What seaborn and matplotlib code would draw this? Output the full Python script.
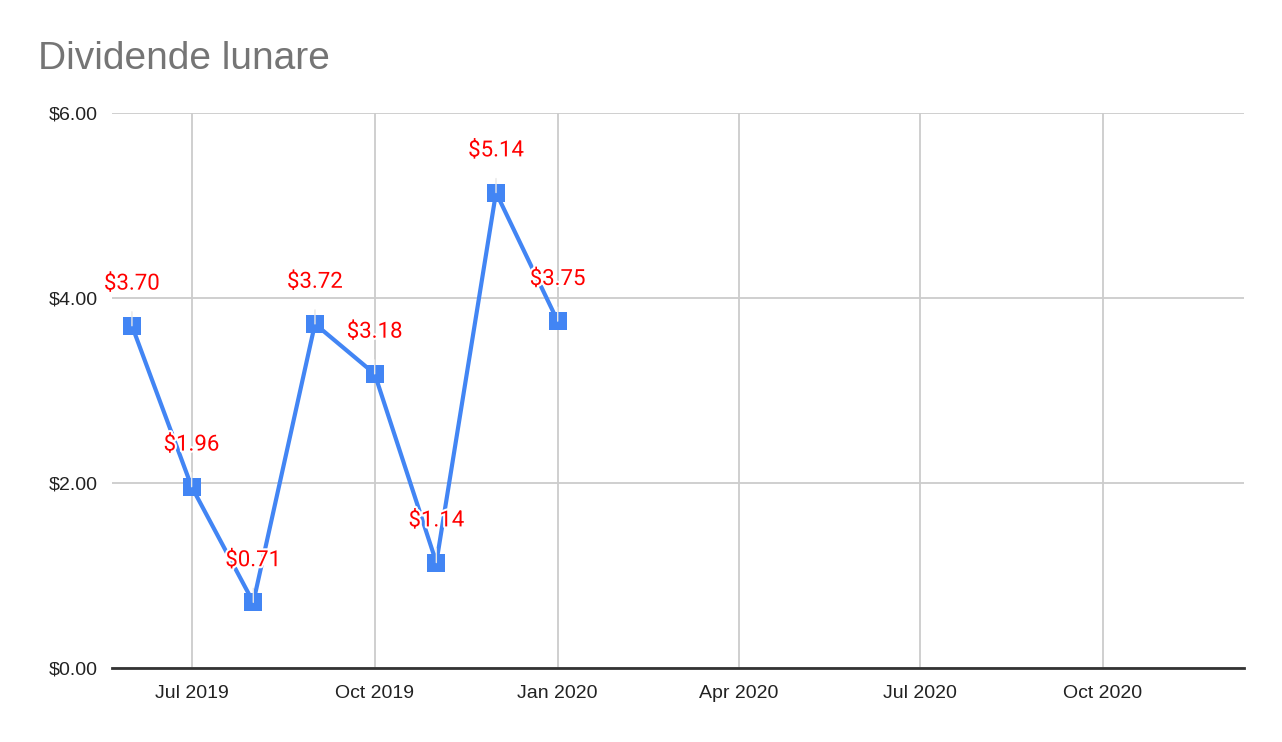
import matplotlib
matplotlib.use("Agg")
import matplotlib.pyplot as plt
import matplotlib.dates as mdates
import matplotlib.patheffects as pe
from matplotlib.ticker import FuncFormatter
import seaborn as sns
import pandas as pd

# Données
months = ["2019-06-01", "2019-07-01", "2019-08-01", "2019-09-01",
          "2019-10-01", "2019-11-01", "2019-12-01", "2020-01-01"]
dividends = [3.70, 1.96, 0.71, 3.72, 3.18, 1.14, 5.14, 3.75]
y_ticks = [0, 2, 4, 6]

df = pd.DataFrame({"Luna": pd.to_datetime(months), "Dividend": dividends})

sns.set_style("white")
plt.rcParams["font.family"] = ["Liberation Sans", "DejaVu Sans"]

fig = plt.figure(figsize=(12.82, 7.42), dpi=100)
ax = fig.add_axes([0.0874, 0.0997, 0.8830, 0.7480])

sns.lineplot(data=df, x="Luna", y="Dividend", ax=ax, color="#4285F4",
             linewidth=3, marker="s", markersize=13, markeredgewidth=0,
             zorder=3)

# Etiquettes de valeurs
for _, row in df.iterrows():
    ax.annotate(f"${row['Dividend']:.2f}", (row["Luna"], row["Dividend"]),
                xytext=(0, 30), textcoords="offset points",
                ha="center", va="center", color="red", fontsize=16,
                family=["Roboto", "DejaVu Sans"], zorder=4,
                path_effects=[pe.withStroke(linewidth=3, foreground="white")],
                arrowprops=dict(arrowstyle="-", color="#e6e6e6", lw=1,
                                shrinkA=10, shrinkB=0))

ax.set_xlim(pd.Timestamp("2019-05-22"), pd.Timestamp("2020-12-11"))
ax.set_ylim(0, 6)
ax.set_yticks(y_ticks)
ax.yaxis.set_major_formatter(FuncFormatter(lambda v, p: f"${v:.2f}"))
ax.xaxis.set_major_locator(mdates.MonthLocator(bymonth=[1, 4, 7, 10]))
ax.xaxis.set_major_formatter(mdates.DateFormatter("%b %Y"))

ax.grid(True, color="#cccccc", linewidth=1.3)
ax.set_axisbelow(True)
for s in ["top", "right", "left"]:
    ax.spines[s].set_visible(False)
ax.spines["bottom"].set_color("#333333")
ax.spines["bottom"].set_linewidth(2)
ax.spines["bottom"].set_zorder(2)
ax.tick_params(axis="both", length=0, labelsize=14, colors="#222222", pad=10)
ax.tick_params(axis="x", pad=12)
ax.set_xlabel("")
ax.set_ylabel("")

fig.text(0.0296, 0.907, "Dividende lunare", fontsize=28, color="#757575",
         ha="left", va="baseline")

fig.savefig("out.png", dpi=100)
